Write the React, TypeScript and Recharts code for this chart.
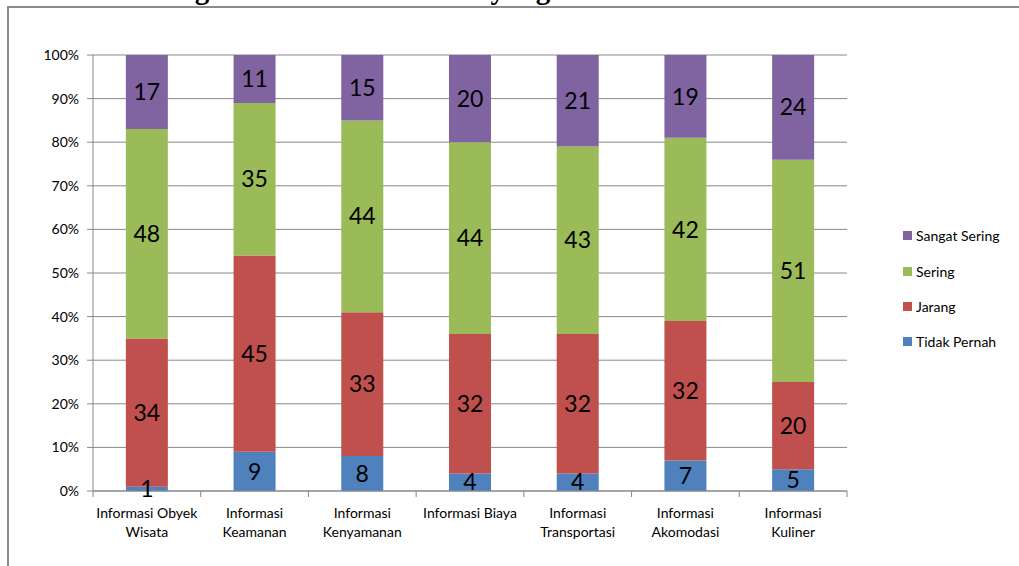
import React from 'react';
import { BarChart, Bar, XAxis, YAxis, CartesianGrid, LabelList } from 'recharts';

// Category labels (line breaks follow the axis wrapping)
const categories = [
  'Informasi Obyek\nWisata',
  'Informasi\nKeamanan',
  'Informasi\nKenyamanan',
  'Informasi Biaya',
  'Informasi\nTransportasi',
  'Informasi\nAkomodasi',
  'Informasi\nKuliner',
];

// Percent of respondents per answer
const tidakPernah = [1, 9, 8, 4, 4, 7, 5];
const jarang = [34, 45, 33, 32, 32, 32, 20];
const sering = [48, 35, 44, 44, 43, 42, 51];
const sangatSering = [17, 11, 15, 20, 21, 19, 24];

const yTicks = [0, 10, 20, 30, 40, 50, 60, 70, 80, 90, 100];

const seriesList = [
  { key: 'tidakPernah', name: 'Tidak Pernah', color: '#4F81BD' },
  { key: 'jarang', name: 'Jarang', color: '#C0504D' },
  { key: 'sering', name: 'Sering', color: '#9BBB59' },
  { key: 'sangatSering', name: 'Sangat Sering', color: '#8064A2' },
];

const data = categories.map((category, i) => ({
  category,
  tidakPernah: tidakPernah[i],
  jarang: jarang[i],
  sering: sering[i],
  sangatSering: sangatSering[i],
}));

const FONT = 'Lato, "Open Sans", sans-serif';
const AXIS_GREY = '#888888';

const CategoryTick = (props: any) => {
  const { x, y, payload, index } = props;
  const half = payload && payload.offset ? payload.offset : 0;
  const lines = String(payload.value).split('\n');
  const isLast = index === categories.length - 1;
  return (
    <g>
      <line x1={x - half} x2={x - half} y1={y} y2={y + 6} stroke={AXIS_GREY} strokeWidth={1} />
      {isLast && (
        <line x1={x + half} x2={x + half} y1={y} y2={y + 6} stroke={AXIS_GREY} strokeWidth={1} />
      )}
      {lines.map((line, i) => (
        <text
          key={i}
          x={x}
          y={y + 27 + i * 19}
          textAnchor="middle"
          fill="#000"
          fontSize={14}
          fontFamily={FONT}
        >
          {line}
        </text>
      ))}
    </g>
  );
};

// Legend listed top-down from the top stack segment
const LegendBox = () => (
  <div
    style={{
      position: 'absolute',
      left: 903,
      top: 218,
      fontFamily: FONT,
      fontSize: 14,
      color: '#000',
    }}
  >
    {[...seriesList].reverse().map((s) => (
      <div key={s.key} style={{ height: 35.4, display: 'flex', alignItems: 'center', whiteSpace: 'nowrap' }}>
        <span style={{ display: 'inline-block', width: 9, height: 9, background: s.color, marginRight: 4 }} />
        <span>{s.name}</span>
      </div>
    ))}
  </div>
);

export default function App() {
  return (
    <div
      style={{
        position: 'fixed',
        left: 0,
        top: 0,
        width: 1019,
        height: 566,
        overflow: 'hidden',
        background: '#fff',
        fontFamily: FONT,
      }}
    >
      {/* page frame and the clipped caption above it */}
      <svg width={1019} height={566} style={{ position: 'absolute', left: 0, top: 0 }}>
        <text
          x={161}
          y={-1.5}
          fontFamily='"Liberation Serif", "DejaVu Serif", serif'
          fontWeight="bold"
          fontSize={29}
          fill="#000"
        >
          Bagan 4.7 Jenis Informasi yang dicari oleh Wisatawan
        </text>
        <path d="M8 566 V7 H1019" fill="none" stroke="#8c8c8c" strokeWidth={2} />
      </svg>
      <div style={{ position: 'absolute', left: 0, top: 0 }}>
        <BarChart
          width={1019}
          height={566}
          data={data}
          margin={{ top: 55, right: 172, left: 33, bottom: 15 }}
          barCategoryGap="30.5%"
        >
          <CartesianGrid vertical={false} stroke={AXIS_GREY} strokeWidth={1} />
          <XAxis
            dataKey="category"
            interval={0}
            height={60}
            tickSize={0}
            tickMargin={0}
            tickLine={false}
            axisLine={{ stroke: AXIS_GREY, strokeWidth: 1 }}
            tick={<CategoryTick />}
          />
          <YAxis
            width={60}
            domain={[0, 100]}
            ticks={yTicks}
            interval={0}
            tickSize={6}
            tickMargin={8}
            tickFormatter={(v: number) => `${v}%`}
            tickLine={{ stroke: AXIS_GREY }}
            axisLine={{ stroke: AXIS_GREY, strokeWidth: 1 }}
            tick={{ fill: '#000', fontSize: 14, fontFamily: FONT }}
          />
          {seriesList.map((s) => (
            <Bar
              key={s.key}
              dataKey={s.key}
              name={s.name}
              stackId="all"
              fill={s.color}
              isAnimationActive={false}
            >
              <LabelList
                dataKey={s.key}
                position="center"
                fill="#000"
                fontSize={23}
                fontFamily={FONT}
              />
            </Bar>
          ))}
        </BarChart>
      </div>
      <LegendBox />
    </div>
  );
}
